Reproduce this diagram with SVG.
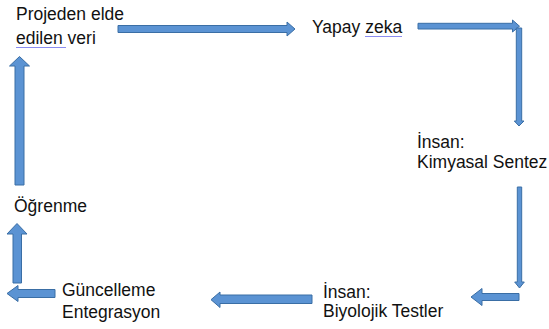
<svg xmlns="http://www.w3.org/2000/svg" width="549" height="329" viewBox="0 0 549 329">
<style>
  .t { font-family: "Liberation Sans", Arial, sans-serif; font-size: 17.5px; fill: #111; }
  .arr { fill: #5b93d3; stroke: #3a6ea5; stroke-width: 1; stroke-linejoin: miter; }
  .sp { stroke: #8a8cf0; stroke-width: 1; fill: none; }
</style>
<rect width="549" height="329" fill="#ffffff"/>
<g id="connectors">
  <polygon class="arr" points="118,25.5 287,25.5 287,22 295,29 287,36 287,32.5 118,32.5"/>
  <polygon class="arr" points="418,23.3 512.5,23.3 512.5,20 519.5,26.2 512.5,32 512.5,29 418,29"/>
  <polygon class="arr" points="516.3,28 521.7,28 521.7,121 524,121 519,126 514.3,121 516.3,121"/>
  <polygon class="arr" points="517.3,187 521.7,187 521.7,282 524.3,282 519.5,288 514.7,282 517.3,282"/>
  <polygon class="arr" points="519,293.5 482,293.5 482,288.5 471,297 482,305.5 482,300.5 519,300.5"/>
  <polygon class="arr" points="312,295 220,295 220,292 211,299.7 220,307.5 220,303.5 312,303.5"/>
  <polygon class="arr" points="55,289.5 18,289.5 18,285.5 7,293.5 18,301.5 18,297.5 55,297.5"/>
  <polygon class="arr" points="13,283 21.5,283 21.5,234 27,234 17,223.5 7,234 13,234"/>
  <polygon class="arr" points="15,185 24,185 24,66 29.5,66 19.5,56.5 9.5,66 15,66"/>
</g>
<g id="node-veri">
  <text class="t" x="16" y="20">Projeden elde</text>
  <text class="t" x="16" y="44">edilen veri</text>
  <line class="sp" x1="16" y1="47.5" x2="66" y2="47.5"/>
</g>
<g id="node-yapay-zeka">
  <text class="t" x="312" y="33">Yapay zeka</text>
  <line class="sp" x1="365" y1="36.5" x2="402" y2="36.5"/>
</g>
<g id="node-kimyasal">
  <text class="t" x="417" y="148">İnsan:</text>
  <text class="t" x="417" y="168">Kimyasal Sentez</text>
</g>
<g id="node-biyolojik">
  <text class="t" x="323" y="298">İnsan:</text>
  <text class="t" x="323" y="317">Biyolojik Testler</text>
</g>
<g id="node-guncelleme">
  <text class="t" x="62" y="296">Güncelleme</text>
  <text class="t" x="62" y="318">Entegrasyon</text>
</g>
<g id="node-ogrenme">
  <text class="t" x="14" y="212">Öğrenme</text>
</g>
</svg>
